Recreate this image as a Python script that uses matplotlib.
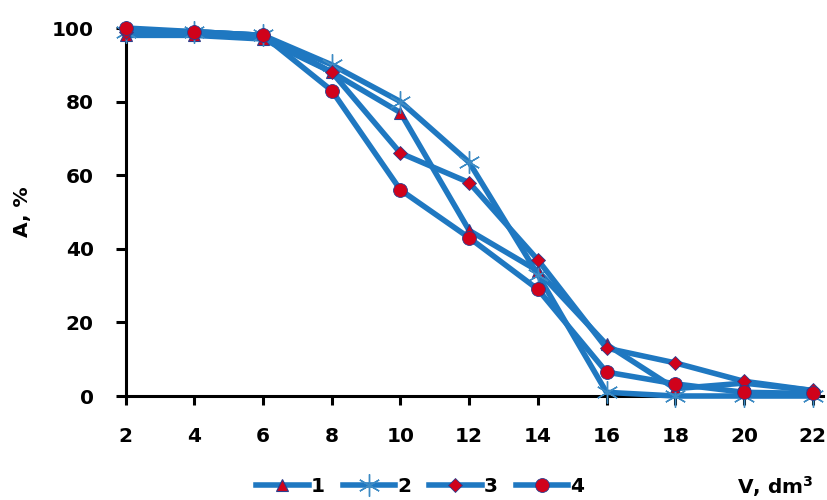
import matplotlib
matplotlib.use("Agg")
import matplotlib.pyplot as plt

plt.rcParams['font.family'] = ['DejaVu Sans']
plt.rcParams['font.weight'] = 'bold'

# volume, dm3
v = [2, 4, 6, 8, 10, 12, 14, 16, 18, 20, 22]

# A, % for the four series
a1 = [98, 98, 97, 88, 77, 45, 34, 14, 2, 3.5, 1.5]
a2 = [99, 99, 98, 90, 80, 63.5, 33, 1, 0, 0, 0]
a3 = [99, 99, 98, 88, 66, 58, 37, 13, 9, 4, 1.5]
a4 = [100, 99, 98, 83, 56, 43, 29, 6.5, 3.3, 1, 0.7]

series_names = ['1', '2', '3', '4']

line_col = '#1f78c1'
red = '#d0021b'

fig = plt.figure(figsize=(8.27, 5.0), dpi=100)
ax = fig.add_axes([0.152, 0.208, 0.843, 0.736])

lw = 4.0
h1, = ax.plot(v, a1, color=line_col, lw=lw, marker='^', ms=8,
              mfc=red, mec='#2a3f8f', mew=0.8, clip_on=False, zorder=3)
h2, = ax.plot(v, a2, color=line_col, lw=lw, marker=(6, 2, 0), ms=16,
              mec='#3d8bc4', mew=1.0, clip_on=False, zorder=3)
h3, = ax.plot(v, a3, color=line_col, lw=lw, marker='D', ms=7,
              mfc=red, mec='#2a3f8f', mew=0.6, clip_on=False, zorder=3)
h4, = ax.plot(v, a4, color=line_col, lw=lw, marker='o', ms=10,
              mfc=red, mec='#2a3f8f', mew=0.6, clip_on=False, zorder=3)

ax.set_xlim(2, 22.3)
ax.set_ylim(0, 100)
ax.set_xticks(v)
ax.set_yticks([0, 20, 40, 60, 80, 100])

for s in ['top', 'right']:
    ax.spines[s].set_visible(False)
for s in ['left', 'bottom']:
    ax.spines[s].set_linewidth(2.2)
    ax.spines[s].set_color('black')

ax.tick_params(axis='y', direction='out', length=7, width=2.2, labelsize=14.5, pad=16)
ax.tick_params(axis='x', direction='out', length=6.5, width=2.2, labelsize=14.5, pad=16)
for lab in ax.get_xticklabels() + ax.get_yticklabels():
    lab.set_fontweight('bold')

ax.set_ylabel('A, %', fontsize=14.5, fontweight='bold', labelpad=14)

fig.legend([h1, h2, h3, h4], series_names, loc='center', ncol=4,
           bbox_to_anchor=(0.508, 0.026), frameon=False,
           handlelength=2.6, handletextpad=0.1, columnspacing=0.9,
           borderpad=0.0, prop={'weight': 'bold', 'size': 14.5})

fig.text(0.937, 0.026, 'V, dm$^{\\mathbf{3}}$', ha='center', va='center',
         fontsize=14.5, fontweight='bold')

fig.savefig('out.png', dpi=100)
